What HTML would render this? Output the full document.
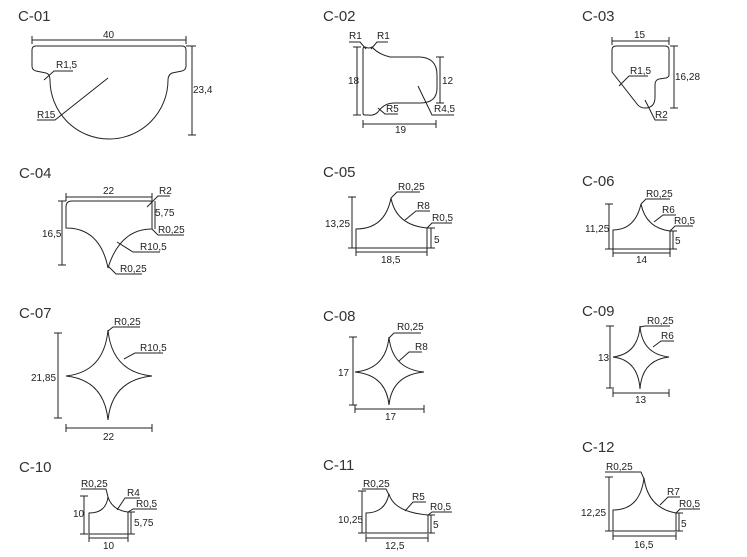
<!DOCTYPE html>
<html><head><meta charset="utf-8"><style>
html,body{margin:0;padding:0;background:#fff;}
svg{display:block;}
text{font-family:"Liberation Sans",sans-serif;font-size:10px;fill:#222;}
.t{font-size:15px;fill:#333;}
path,line{stroke:#222;fill:none;stroke-width:1;}
</style></head><body>
<svg width="747" height="557" viewBox="0 0 747 557" xmlns="http://www.w3.org/2000/svg">
<!-- C-01 -->
<text class="t" x="18" y="21">C-01</text>
<line x1="32" y1="40" x2="186" y2="40"/><line x1="32" y1="36" x2="32" y2="44"/><line x1="186" y1="36" x2="186" y2="44"/>
<text x="103" y="38">40</text>
<path d="M36,46 H182 Q186,46 186,50 V66 Q186,70 182,71 L172,73 Q168,75 168,80 A57,57 0 0 1 50,80 Q50,74 46,73 L36,71 Q32,70 32,66 V50 Q32,46 36,46 Z"/>
<line x1="186" y1="46" x2="196" y2="46"/><line x1="192" y1="46" x2="192" y2="135"/><line x1="188" y1="135" x2="196" y2="135"/>
<text x="193" y="93">23,4</text>
<path d="M44,80 L54,71 H73"/><text x="56" y="68">R1,5</text>
<path d="M108,78 L55,120 H37"/><text x="37" y="118">R15</text>
<!-- C-02 -->
<text class="t" x="323" y="21">C-02</text>
<path d="M365,47 Q369,49 372,47 Q378,54 390,57 H420 Q437,58 437,75 V88 Q437,103 420,103 H394 Q384,103 378,112 Q374,116 368,115 H365 Q363,115 363,113 V49 Q363,47 365,47 Z"/>
<line x1="357" y1="47" x2="357" y2="115"/><line x1="353" y1="47" x2="361" y2="47"/><line x1="353" y1="115" x2="361" y2="115"/>
<text x="348" y="84">18</text>
<line x1="440" y1="57" x2="440" y2="103"/><line x1="436" y1="57" x2="444" y2="57"/><line x1="436" y1="103" x2="444" y2="103"/>
<text x="442" y="84">12</text>
<line x1="363" y1="124" x2="436" y2="124"/><line x1="363" y1="120" x2="363" y2="128"/><line x1="436" y1="120" x2="436" y2="128"/>
<text x="395" y="133">19</text>
<path d="M366,49 L360,42 H349"/><text x="349" y="39">R1</text>
<path d="M371,49 L377,42 H388"/><text x="377" y="39">R1</text>
<path d="M418,86 L432,115 H454"/><text x="434" y="112">R4,5</text>
<path d="M378,108 L385,114 H398"/><text x="386" y="112">R5</text>
<!-- C-03 -->
<text class="t" x="582" y="21">C-03</text>
<path d="M616,46 H665 Q669,46 669,50 V75 Q669,77 666,78 L659,79 Q655,80 655,85 V97 Q655,108 645,108 Q640,108 637,104 L612,72 V50 Q612,46 616,46 Z"/>
<line x1="612" y1="41" x2="669" y2="41"/><line x1="612" y1="37" x2="612" y2="45"/><line x1="669" y1="37" x2="669" y2="45"/>
<text x="634" y="38">15</text>
<line x1="674" y1="46" x2="674" y2="108"/><line x1="670" y1="46" x2="678" y2="46"/><line x1="670" y1="108" x2="678" y2="108"/>
<text x="675" y="80">16,28</text>
<path d="M619,86 L629,76 H648"/><text x="630" y="74">R1,5</text>
<path d="M645,100 L655,120 H667"/><text x="655" y="118">R2</text>
<!-- C-04 -->
<text class="t" x="19" y="178">C-04</text>
<line x1="66" y1="197" x2="152" y2="197"/><line x1="66" y1="193" x2="66" y2="201"/><line x1="152" y1="193" x2="152" y2="201"/>
<text x="103" y="194">22</text>
<path d="M72,201 H150 Q152,201 152,203 V229 Q120,229 108,268 Q100,228 66,228 V207 Q66,201 72,201 Z"/>
<line x1="62" y1="201" x2="62" y2="265"/><line x1="58" y1="201" x2="66" y2="201"/><line x1="58" y1="265" x2="66" y2="265"/>
<text x="42" y="237">16,5</text>
<line x1="155" y1="201" x2="155" y2="229"/>
<text x="155" y="216">5,75</text>
<path d="M147,207 L158,196 H170"/><text x="159" y="194">R2</text>
<path d="M152,229 L158,235 H184"/><text x="158" y="233">R0,25</text>
<path d="M117,242 L133,252 H160"/><text x="140" y="250">R10,5</text>
<path d="M108,266 L116,274 H142"/><text x="120" y="272">R0,25</text>
<!-- C-05 -->
<text class="t" x="323" y="177">C-05</text>
<path d="M356,229 Q385,229 391,198 Q396,225 427,228 V248 H356 Z"/>
<line x1="352" y1="197" x2="352" y2="248"/><line x1="348" y1="197" x2="356" y2="197"/><line x1="348" y1="248" x2="356" y2="248"/>
<text x="325" y="227">13,25</text>
<line x1="431" y1="228" x2="431" y2="248"/><line x1="427" y1="228" x2="435" y2="228"/><line x1="427" y1="248" x2="435" y2="248"/>
<text x="434" y="243">5</text>
<line x1="356" y1="252" x2="427" y2="252"/><line x1="356" y1="248" x2="356" y2="256"/><line x1="427" y1="248" x2="427" y2="256"/>
<text x="381" y="263">18,5</text>
<path d="M391,198 L397,192 H420"/><text x="398" y="190">R0,25</text>
<path d="M405,220 L416,211 H430"/><text x="417" y="209">R8</text>
<path d="M427,228 L432,223 H452"/><text x="432" y="221">R0,5</text>
<!-- C-06 -->
<text class="t" x="582" y="186">C-06</text>
<path d="M613,230 Q635,230 641,204 Q646,228 670,231 V249 H613 Z"/>
<line x1="609" y1="204" x2="609" y2="249"/><line x1="605" y1="204" x2="613" y2="204"/><line x1="605" y1="249" x2="613" y2="249"/>
<text x="585" y="232">11,25</text>
<line x1="673" y1="231" x2="673" y2="249"/><line x1="669" y1="231" x2="677" y2="231"/><line x1="669" y1="249" x2="677" y2="249"/>
<text x="675" y="244">5</text>
<line x1="613" y1="253" x2="670" y2="253"/><line x1="613" y1="249" x2="613" y2="257"/><line x1="670" y1="249" x2="670" y2="257"/>
<text x="636" y="263">14</text>
<path d="M641,204 L646,199 H670"/><text x="646" y="197">R0,25</text>
<path d="M654,222 L663,215 H676"/><text x="662" y="213">R6</text>
<path d="M670,231 L675,226 H693"/><text x="674" y="224">R0,5</text>
<!-- C-07 -->
<text class="t" x="19" y="318">C-07</text>
<path d="M108,330 Q112,372 152,376 Q112,380 108,420 Q104,380 66,376 Q104,372 108,330 Z"/>
<line x1="58" y1="333" x2="58" y2="418"/><line x1="54" y1="333" x2="62" y2="333"/><line x1="54" y1="418" x2="62" y2="418"/>
<text x="31" y="381">21,85</text>
<line x1="66" y1="428" x2="152" y2="428"/><line x1="66" y1="424" x2="66" y2="432"/><line x1="152" y1="424" x2="152" y2="432"/>
<text x="103" y="440">22</text>
<path d="M108,331 L113,327 H140"/><text x="114" y="325">R0,25</text>
<path d="M124,359 L135,353 H163"/><text x="140" y="351">R10,5</text>
<!-- C-08 -->
<text class="t" x="323" y="321">C-08</text>
<path d="M389,337 Q392,369 424,372 Q392,375 389,405 Q386,375 355,372 Q386,369 389,337 Z"/>
<line x1="353" y1="337" x2="353" y2="405"/><line x1="349" y1="337" x2="357" y2="337"/><line x1="349" y1="405" x2="357" y2="405"/>
<text x="338" y="376">17</text>
<line x1="355" y1="409" x2="424" y2="409"/><line x1="355" y1="405" x2="355" y2="413"/><line x1="424" y1="405" x2="424" y2="413"/>
<text x="385" y="420">17</text>
<path d="M389,338 L394,333 H421"/><text x="397" y="330">R0,25</text>
<path d="M399,361 L409,352 H422"/><text x="415" y="350">R8</text>
<!-- C-09 -->
<text class="t" x="582" y="316">C-09</text>
<path d="M640,326 Q642,354 669,357 Q642,360 640,389 Q638,360 613,357 Q638,354 640,326 Z"/>
<line x1="610" y1="326" x2="610" y2="388"/><line x1="606" y1="326" x2="614" y2="326"/><line x1="606" y1="388" x2="614" y2="388"/>
<text x="598" y="361">13</text>
<line x1="613" y1="393" x2="669" y2="393"/><line x1="613" y1="389" x2="613" y2="397"/><line x1="669" y1="389" x2="669" y2="397"/>
<text x="635" y="403">13</text>
<path d="M640,327 L645,326 H670"/><text x="647" y="324">R0,25</text>
<path d="M653,347 L661,341 H674"/><text x="661" y="339">R6</text>
<!-- C-10 -->
<text class="t" x="19" y="472">C-10</text>
<path d="M89,513 Q106,513 108,497 Q112,510 128,512 V534 H89 Z"/>
<line x1="84" y1="496" x2="84" y2="534"/><line x1="80" y1="496" x2="88" y2="496"/><line x1="80" y1="534" x2="88" y2="534"/>
<text x="73" y="517">10</text>
<line x1="131" y1="512" x2="131" y2="534"/><line x1="127" y1="512" x2="135" y2="512"/><line x1="127" y1="534" x2="135" y2="534"/>
<text x="134" y="526">5,75</text>
<line x1="89" y1="538" x2="128" y2="538"/><line x1="89" y1="534" x2="89" y2="542"/><line x1="128" y1="534" x2="128" y2="542"/>
<text x="103" y="549">10</text>
<path d="M108,497 L106,489 H81"/><text x="81" y="487">R0,25</text>
<path d="M117,510 L125,498 H140"/><text x="127" y="496">R4</text>
<path d="M128,512 L133,509 H157"/><text x="136" y="507">R0,5</text>
<!-- C-11 -->
<text class="t" x="323" y="470">C-11</text>
<path d="M366,513 Q385,513 389,494 Q394,512 428,515 V533 H366 Z"/>
<line x1="362" y1="491" x2="362" y2="533"/><line x1="358" y1="491" x2="366" y2="491"/><line x1="358" y1="533" x2="366" y2="533"/>
<text x="338" y="523">10,25</text>
<line x1="431" y1="515" x2="431" y2="533"/><line x1="427" y1="515" x2="435" y2="515"/><line x1="427" y1="533" x2="435" y2="533"/>
<text x="433" y="528">5</text>
<line x1="366" y1="538" x2="428" y2="538"/><line x1="366" y1="534" x2="366" y2="542"/><line x1="428" y1="534" x2="428" y2="542"/>
<text x="385" y="549">12,5</text>
<path d="M389,495 L386,489 H362"/><text x="363" y="487">R0,25</text>
<path d="M405,511 L413,502 H426"/><text x="412" y="500">R5</text>
<path d="M428,515 L432,512 H452"/><text x="430" y="510">R0,5</text>
<!-- C-12 -->
<text class="t" x="582" y="452">C-12</text>
<path d="M613,510 Q640,510 644,478 Q648,508 676,513 V531 H613 Z"/>
<line x1="609" y1="477" x2="609" y2="531"/><line x1="605" y1="477" x2="613" y2="477"/><line x1="605" y1="531" x2="613" y2="531"/>
<text x="581" y="516">12,25</text>
<line x1="679" y1="513" x2="679" y2="531"/><line x1="675" y1="513" x2="683" y2="513"/><line x1="675" y1="531" x2="683" y2="531"/>
<text x="681" y="527">5</text>
<line x1="613" y1="536" x2="676" y2="536"/><line x1="613" y1="532" x2="613" y2="540"/><line x1="676" y1="532" x2="676" y2="540"/>
<text x="634" y="548">16,5</text>
<path d="M644,479 L641,472 H605"/><text x="606" y="470">R0,25</text>
<path d="M660,505 L668,497 H680"/><text x="667" y="495">R7</text>
<path d="M676,513 L680,509 H700"/><text x="679" y="507">R0,5</text>
</svg>
</body></html>
